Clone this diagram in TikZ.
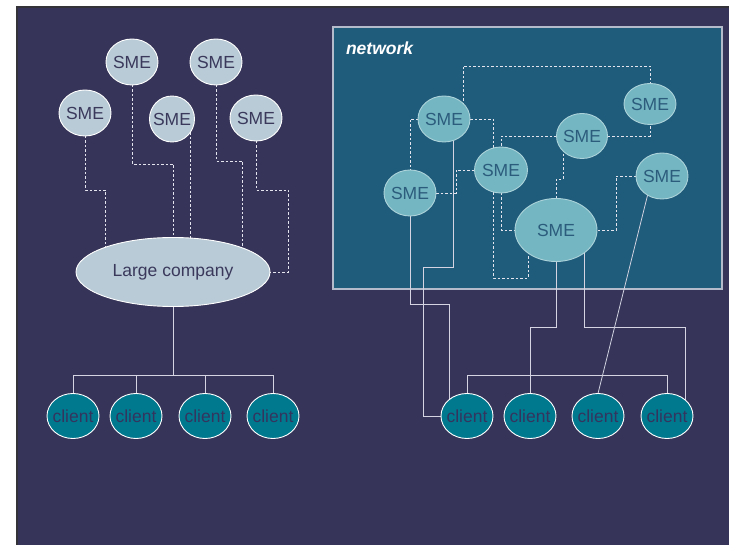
\documentclass[tikz,border=0pt]{standalone}
\usepackage{fontspec}
\setmainfont{Liberation Sans}
\usetikzlibrary{shapes.geometric,calc}
\pgfdeclarelayer{back}
\pgfdeclarelayer{bg}
\pgfsetlayers{back,bg,main}
\definecolor{navy}{HTML}{363458}
\definecolor{frame}{HTML}{333338}
\definecolor{netfill}{HTML}{1F5B7A}
\definecolor{netborder}{HTML}{B4BCCC}
\definecolor{smefill}{HTML}{B9CBD6}
\definecolor{smetext}{HTML}{3A395C}
\definecolor{nsmefill}{HTML}{74B6C2}
\definecolor{nsmetext}{HTML}{2C5C7C}
\definecolor{clientfill}{HTML}{00798F}
\definecolor{clienttext}{HTML}{34355E}
\definecolor{dashcol}{HTML}{E4E4EE}
\definecolor{solidcol}{HTML}{D4D4E2}
\tikzset{
  x=1pt, y=-1pt,
  every node/.style={font=\fontsize{17.5}{20}\selectfont, inner sep=-6pt, outer sep=0pt},
  blob/.style={ellipse, draw=white, line width=0.9pt, minimum width=#1},
  sme/.style={blob=52pt, minimum height=46pt, fill=smefill, text=smetext},
  nsme/.style={blob=52pt, minimum height=46pt, fill=nsmefill, draw=nsmefill!60!white, text=nsmetext},
  client/.style={blob=52pt, minimum height=45pt, fill=clientfill, text=clienttext},
  dl/.style={dashcol, line width=0.85pt, dash pattern=on 2.5pt off 2pt},
  sl/.style={solidcol, line width=0.95pt},
}
\begin{document}
\begin{tikzpicture}
\useasboundingbox (0,0) rectangle (729,545);
\begin{pgfonlayer}{back}
\fill[white] (0,0) rectangle (729,545);
\fill[frame] (16,6) rectangle (729,545);
\fill[navy] (18,8) rectangle (729,545);
\draw[netborder, line width=1.2pt, fill=netfill] (333,27) rectangle (722,289);
\end{pgfonlayer}
\node[anchor=west, text=white, font=\fontsize{17.5}{20}\selectfont\bfseries\itshape, inner sep=0pt] (net) at (346,48) {network};

% left SMEs
\node[sme] (s1) at (132,62) {SME};
\node[sme] (s2) at (216,62) {SME};
\node[sme] (s3) at (85,113) {SME};
\node[sme, minimum width=45pt] (s4) at (172,119) {SME};
\node[sme] (s5) at (256,118) {SME};
\node[ellipse, draw=white, line width=0.9pt, fill=smefill, text=smetext, minimum width=194pt, minimum height=69pt] (lc) at (173,272) {Large company};

% left clients
\node[client] (c1) at (73,416) {client};
\node[client] (c2) at (136,416) {client};
\node[client] (c3) at (205,416) {client};
\node[client] (c4) at (273,416) {client};

% network SMEs
\node[nsme] (A) at (444,119) {SME};
\node[nsme, minimum height=41pt] (B) at (650,104) {SME};
\node[nsme, minimum width=51pt, minimum height=45pt] (C) at (582,136) {SME};
\node[nsme, minimum width=53pt] (D) at (501,170) {SME};
\node[nsme] (E) at (410,193) {SME};
\node[nsme] (F) at (662,176) {SME};
\node[nsme, minimum width=82pt, minimum height=63pt] (G) at (556,230) {SME};

% right clients
\node[client] (k1) at (467,416) {client};
\node[client] (k2) at (530,416) {client};
\node[client] (k3) at (598,416) {client};
\node[client] (k4) at (667,416) {client};

\begin{pgfonlayer}{bg}
% left dashed
\draw[dl] (s3) |- (105,190) -- (105,0 |- lc);
\draw[dl] (s1) |- (173,164) -- (lc);
\draw[dl] (s4 -| 190,0) -- (190,0 |- lc);
\draw[dl] (s2) |- (242,161) -- (242,0 |- lc);
\draw[dl] (s5) |- (288,190) |- (lc);
% left solid
\draw[sl] (lc) -- (lc |- 0,375);
\draw[sl] (c1.north) |- (c4 |- 0,375) -- (c4.north);
\draw[sl] (c2.north) -- (c2 |- 0,375);
\draw[sl] (c3.north) -- (c3 |- 0,375);

% network dashed
\draw[dl] (A -| 463,0) |- (650,66) -- (B);
\draw[dl] (A) -| (D -| 493,0);
\draw[dl] (A) -| (E);
\draw[dl] (E) -- (E -| 456,0) |- (D);
\draw[dl] (C) -| (D);
\draw[dl] (C) -| (B);
\draw[dl] (C -| 563,0) -- (563,179) -| (G);
\draw[dl] (F) -| (616,230) -- (G);
\draw[dl] (D) |- (G);
\draw[dl] (D -| 493,0) -- (493,278) -| (G -| 528,0);

% network to clients (solid)
\draw[sl] (E) |- (449,304) -- (k1 -| 449,0);
\draw[sl] (A -| 453,0) -- (453,267) -| (k1 -| 423,0) -- (k1);
\draw[sl] (G) -- (G |- 0,327) -| (k2);
\draw[sl] (G -| 584,0) -- (584,327) -| (k4 -| 685,0);
\draw[sl, line width=0.8pt] (F.233) -- (k3.north);
\draw[sl] (k1.north) |- (k4 |- 0,375) -- (k4.north);
\end{pgfonlayer}
\end{tikzpicture}
\end{document}
